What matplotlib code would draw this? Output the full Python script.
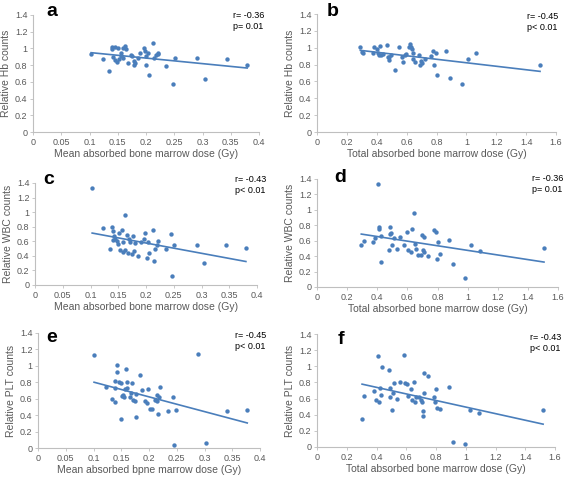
import numpy as np
import matplotlib
matplotlib.use("Agg")
import matplotlib.pyplot as plt
from matplotlib.ticker import FuncFormatter

plt.rcParams['font.family'] = ['Liberation Sans', 'DejaVu Sans']

# panel a: mean dose vs Hb
a_x = [0.103, 0.124, 0.135, 0.139, 0.140, 0.142, 0.145, 0.146, 0.149, 0.150, 0.152,
       0.155, 0.156, 0.159, 0.162, 0.164, 0.160, 0.169, 0.173, 0.176, 0.178, 0.179,
       0.180, 0.185, 0.189, 0.196, 0.198, 0.200, 0.203, 0.200, 0.206, 0.213, 0.215,
       0.218, 0.221, 0.222, 0.236, 0.247, 0.251, 0.290, 0.304, 0.343, 0.379]
a_y = [0.93, 0.876, 0.73, 0.99, 1.02, 0.90, 1.02, 0.86, 0.84, 1.00, 0.87,
       0.94, 0.91, 1.01, 1.03, 0.99, 0.89, 0.83, 0.92, 0.91, 0.85, 0.80,
       0.83, 0.89, 0.94, 1.01, 0.97, 0.91, 0.94, 0.80, 0.68, 1.06, 0.88,
       0.92, 0.95, 0.93, 0.79, 0.57, 0.89, 0.88, 0.64, 0.87, 0.80]

# panel b: total dose vs Hb
b_x = [0.290, 0.301, 0.306, 0.373, 0.379, 0.402, 0.408, 0.413, 0.420, 0.429, 0.440,
       0.469, 0.473, 0.480, 0.484, 0.498, 0.525, 0.547, 0.569, 0.576, 0.592, 0.596,
       0.614, 0.623, 0.632, 0.638, 0.645, 0.640, 0.658, 0.681, 0.692, 0.699, 0.703,
       0.725, 0.766, 0.777, 0.786, 0.797, 0.806, 0.866, 0.893, 0.971, 1.009, 1.067, 1.493]
b_y = [1.01, 0.954, 0.94, 0.94, 1.01, 0.99, 0.935, 0.915, 1.02, 0.915, 0.93,
       1.03, 0.895, 0.86, 0.89, 0.915, 0.733, 1.01, 0.887, 0.83, 0.915, 0.927,
       1.01, 1.05, 1.01, 0.99, 0.934, 0.871, 0.83, 0.915, 0.797, 0.848, 0.824,
       0.871, 0.903, 0.962, 0.797, 0.942, 0.678, 0.962, 0.643, 0.572, 0.871, 0.934, 0.797]

# panel c: mean dose vs WBC
c_x = [0.103, 0.123, 0.135, 0.139, 0.140, 0.143, 0.145, 0.141, 0.148, 0.150, 0.152,
       0.153, 0.156, 0.158, 0.159, 0.162, 0.163, 0.165, 0.168, 0.170, 0.172, 0.175,
       0.177, 0.178, 0.180, 0.186, 0.191, 0.196, 0.198, 0.201, 0.203, 0.206, 0.213,
       0.215, 0.217, 0.219, 0.221, 0.236, 0.245, 0.247, 0.251, 0.291, 0.304, 0.344, 0.380]
c_y = [1.33, 0.785, 0.50, 0.794, 0.748, 0.666, 0.629, 0.62, 0.606, 0.56, 0.72,
       0.48, 0.757, 0.59, 0.459, 0.48, 0.964, 0.688, 0.436, 0.638, 0.597, 0.422,
       0.675, 0.468, 0.574, 0.40, 0.597, 0.638, 0.72, 0.367, 0.592, 0.436, 0.753,
       0.335, 0.50, 0.55, 0.61, 0.49, 0.70, 0.124, 0.55, 0.55, 0.298, 0.555, 0.514]

# panel d: total dose vs WBC
d_x = [0.294, 0.310, 0.372, 0.387, 0.405, 0.409, 0.412, 0.423, 0.427, 0.476, 0.482,
       0.487, 0.489, 0.498, 0.511, 0.531, 0.553, 0.575, 0.597, 0.604, 0.622, 0.633,
       0.644, 0.648, 0.655, 0.670, 0.692, 0.699, 0.708, 0.704, 0.708, 0.737, 0.777,
       0.792, 0.796, 0.803, 0.814, 0.876, 0.903, 0.980, 1.020, 1.080, 1.507]
d_y = [0.55, 0.59, 0.58, 0.637, 1.33, 0.78, 0.746, 0.663, 0.33, 0.477, 0.685,
       0.776, 0.702, 0.546, 0.633, 0.494, 0.642, 0.546, 0.711, 0.477, 0.46, 0.746,
       0.962, 0.555, 0.498, 0.42, 0.412, 0.672, 0.642, 0.485, 0.46, 0.399, 0.737,
       0.715, 0.364, 0.585, 0.433, 0.607, 0.295, 0.121, 0.55, 0.472, 0.507]

# panel e: mean dose vs PLT
e_x = [0.101, 0.123, 0.134, 0.138, 0.139, 0.139, 0.142, 0.143, 0.146, 0.149, 0.150,
       0.151, 0.153, 0.155, 0.156, 0.159, 0.160, 0.161, 0.165, 0.167, 0.169, 0.172,
       0.174, 0.177, 0.177, 0.184, 0.187, 0.193, 0.196, 0.199, 0.202, 0.205, 0.211,
       0.214, 0.215, 0.216, 0.218, 0.220, 0.234, 0.243, 0.245, 0.248, 0.289, 0.302,
       0.341, 0.377]
e_y = [1.135, 0.747, 0.596, 0.555, 0.816, 0.735, 0.922, 1.01, 0.808, 0.355, 0.788,
       0.633, 0.645, 0.616, 0.714, 0.963, 0.727, 0.808, 0.616, 0.665, 0.796, 0.584,
       0.571, 0.380, 0.657, 0.890, 0.706, 0.571, 0.551, 0.714, 0.478, 0.469, 0.584,
       0.645, 0.571, 0.412, 0.616, 0.739, 0.449, 0.624, 0.04, 0.461, 1.143, 0.061,
       0.453, 0.457]

# panel f: total dose vs PLT
f_x = [0.303, 0.316, 0.381, 0.397, 0.413, 0.419, 0.424, 0.435, 0.433, 0.484, 0.493,
       0.491, 0.502, 0.511, 0.516, 0.540, 0.561, 0.583, 0.594, 0.608, 0.612, 0.630,
       0.639, 0.652, 0.657, 0.668, 0.684, 0.697, 0.706, 0.713, 0.715, 0.717, 0.720,
       0.747, 0.785, 0.791, 0.803, 0.809, 0.825, 0.888, 0.913, 0.993, 1.031, 1.090, 1.520]
f_y = [0.353, 0.636, 0.698, 0.577, 1.126, 0.553, 0.727, 0.993, 0.644, 0.956, 0.731,
       0.623, 0.461, 0.673, 0.794, 0.594, 0.806, 1.138, 0.798, 0.781, 0.631, 0.715,
       0.577, 0.802, 0.561, 0.615, 0.615, 0.582, 0.561, 0.449, 0.382, 0.914, 0.665,
       0.885, 0.615, 0.557, 0.715, 0.478, 0.469, 0.74, 0.058, 0.042, 0.453, 0.42, 0.453]

panel_letters = ['a', 'b', 'c', 'd', 'e', 'f']
ylabels = ['Relative Hb counts', 'Relative Hb counts', 'Relative WBC counts',
           'Relative WBC counts', 'Relative PLT counts', 'Relative PLT counts']
xlabels = ['Mean absorbed bone marrow dose (Gy)', 'Total absorbed bone marrow dose (Gy)',
           'Mean absorbed bone marrow dose (Gy)', 'Total absorbed bone marrow dose (Gy)',
           'Mean absorbed bpne marrow dose (Gy)', 'Total absorbed bone marrow dose (Gy)']
stats = ['r= -0.36\np= 0.01', 'r= -0.45\np< 0.01', 'r= -0.43\np< 0.01',
         'r= -0.36\np= 0.01', 'r= -0.45\np< 0.01', 'r= -0.43\np< 0.01']
xs = [a_x, b_x, c_x, d_x, e_x, f_x]
ys = [a_y, b_y, c_y, d_y, e_y, f_y]

# axes boxes in pixels: left, right, top, bottom
boxes = [(33, 259, 15, 132), (317, 556, 14, 132),
         (35, 257, 183, 285), (317, 558, 179, 287),
         (38, 260, 333, 448), (317, 555, 334, 447)]
letter_pos = [(52, 12), (333, 12), (49, 180), (340, 178), (52, 337), (341, 340)]
stat_pos = [(233, 11), (527, 12), (235, 175), (532, 174), (235, 331), (530, 333)]

W, H = 565, 479
blue = '#4a7ebb'
gray = '#595959'
fig = plt.figure(figsize=(W / 100, H / 100), dpi=100)


def num_fmt(v, pos):
    if abs(v) < 1e-9:
        return '0'
    return ('%.2f' % v).rstrip('0').rstrip('.')


for i in range(6):
    l, r, t, b = boxes[i]
    ax = fig.add_axes([l / W, 1 - b / H, (r - l) / W, (b - t) / H])
    x = np.array(xs[i])
    y = np.array(ys[i])
    ax.scatter(x, y, s=10, color=blue, zorder=3, linewidths=0)
    # linear trendline
    k, c0 = np.polyfit(x, y, 1)
    xx = np.array([x.min(), x.max()])
    ax.plot(xx, k * xx + c0, color=blue, lw=1.2, zorder=2)

    ax.set_ylim(0, 1.4)
    ax.set_yticks(np.arange(0, 1.41, 0.2))
    if i % 2 == 0:
        ax.set_xlim(0, 0.4)
        ax.set_xticks(np.arange(0, 0.401, 0.05))
    else:
        ax.set_xlim(0, 1.6)
        ax.set_xticks(np.arange(0, 1.61, 0.2))
    ax.xaxis.set_major_formatter(FuncFormatter(num_fmt))
    ax.yaxis.set_major_formatter(FuncFormatter(num_fmt))

    for s in ['top', 'right']:
        ax.spines[s].set_visible(False)
    for s in ['left', 'bottom']:
        ax.spines[s].set_color('#bfbfbf')
        ax.spines[s].set_linewidth(0.8)
    ax.tick_params(length=2, width=0.6, color='#bfbfbf', labelsize=6.5,
                   labelcolor=gray, pad=2)
    ax.set_xlabel(xlabels[i], fontsize=7.5, color=gray, labelpad=2)
    ax.set_ylabel(ylabels[i], fontsize=7.5, color=gray, labelpad=3)

    lx, ly = letter_pos[i]
    fig.text(lx / W, 1 - ly / H, panel_letters[i], fontsize=14, fontweight='bold',
             ha='center', va='center')
    sx, sy = stat_pos[i]
    fig.text(sx / W, 1 - sy / H, stats[i], fontsize=6.5, ha='left', va='top',
             linespacing=1.35)

fig.savefig('out.png', dpi=100)
